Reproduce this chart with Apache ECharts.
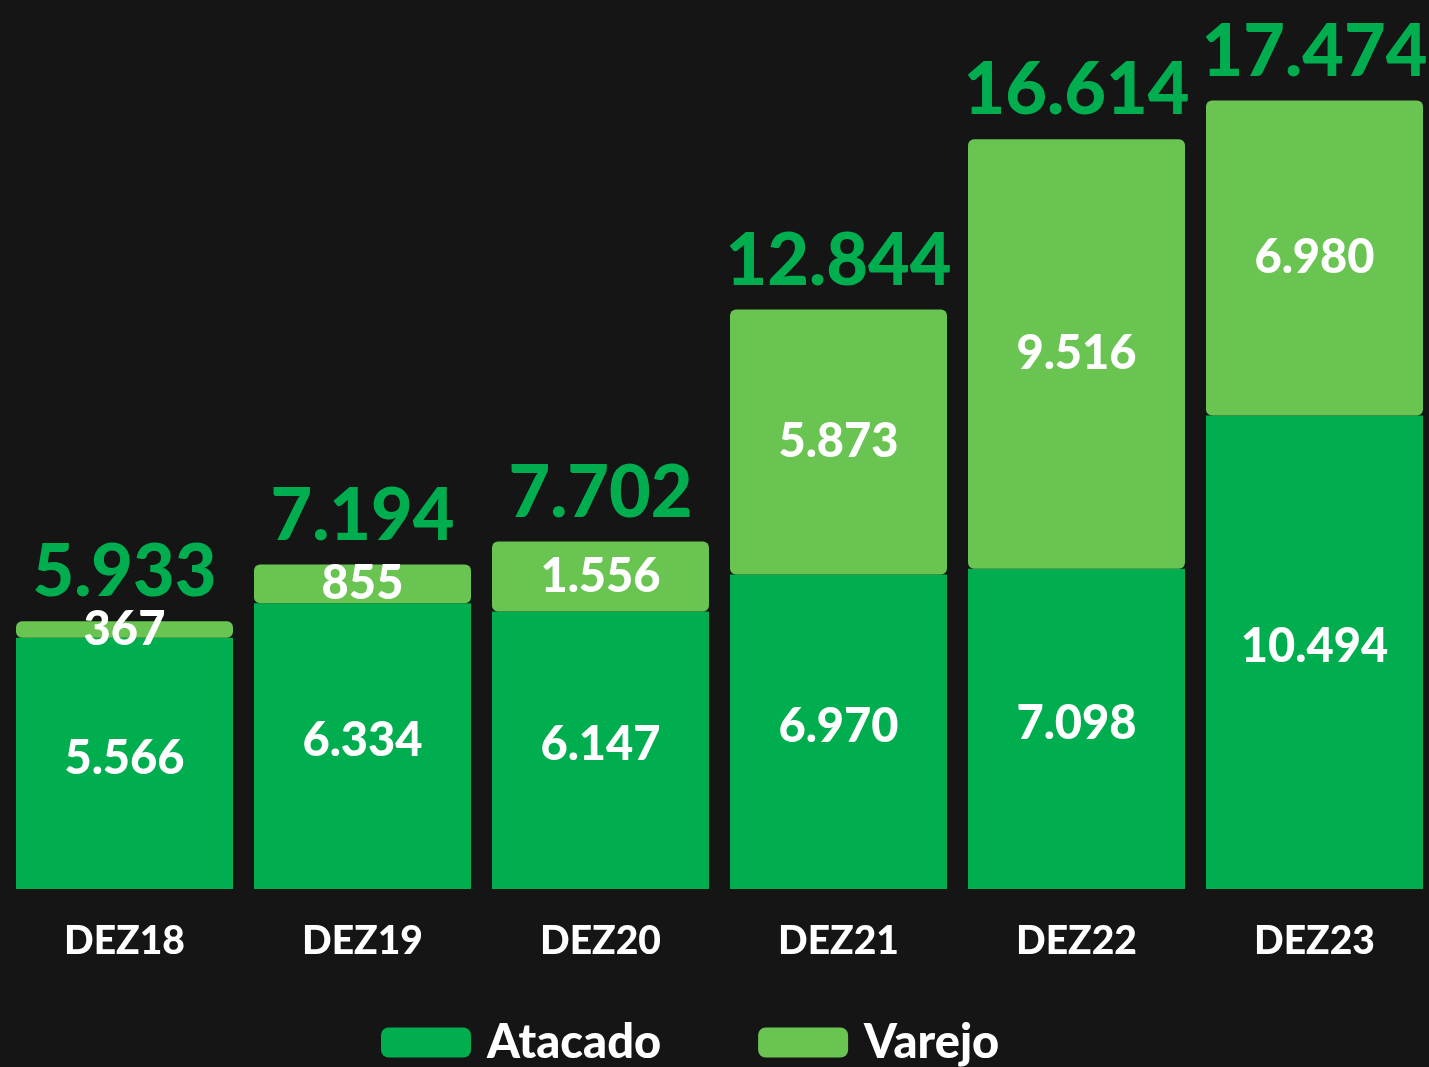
<!DOCTYPE html>
<html>
<head>
<meta charset="utf-8">
<script src="https://cdn.jsdelivr.net/npm/echarts@6/dist/echarts.min.js"></script>
<style>
html,body{margin:0;padding:0;background:#151515;overflow:hidden;}
#chart{width:1440px;height:1067px;}
</style>
</head>
<body>
<div id="chart"></div>
<script>
const categories = ['DEZ18','DEZ19','DEZ20','DEZ21','DEZ22','DEZ23'];
const atacado = [5566, 6334, 6147, 6970, 7098, 10494];
const varejo = [367, 855, 1556, 5873, 9516, 6980];
const totals = [5933, 7194, 7702, 12844, 16614, 17474];

const fmt = v => v.toLocaleString('de-DE');
const FONT = 'Lato';
const chart = echarts.init(document.getElementById('chart'));
chart.setOption({
  backgroundColor: '#151515',
  animation: false,
  grid: {left: 5.5, top: 0, width: 1428, bottom: 178, containLabel: false},
  xAxis: {
    type: 'category', data: categories,
    axisLine: {show: false}, axisTick: {show: false},
    axisLabel: {color: '#ffffff', fontFamily: FONT, fontWeight: 900, fontSize: 39, margin: 33}
  },
  yAxis: {type: 'value', min: 0, max: 19700, show: false, splitLine: {show: false}},
  legend: {
    data: ['Atacado', 'Varejo'],
    top: 1019, left: 381, padding: 0,
    itemWidth: 90, itemHeight: 30, itemGap: 97,
    icon: 'roundRect',
    textStyle: {color: '#ffffff', fontFamily: FONT, fontWeight: 900, fontSize: 47, padding: [0,0,0,11]}
  },
  series: [
    {
      name: 'Atacado', type: 'bar', stack: 's', data: atacado, barWidth: 217,
      itemStyle: {color: '#00AE4F'},
      label: {show: true, position: 'inside', offset: [0, -5], color: '#ffffff', fontFamily: FONT, fontWeight: 900, fontSize: 47, formatter: p => fmt(p.value)}
    },
    {
      name: 'Varejo', type: 'bar', stack: 's', data: varejo, barWidth: 217,
      itemStyle: {color: '#6AC452', borderRadius: 6},
      label: {show: true, position: 'inside', color: '#ffffff', fontFamily: FONT, fontWeight: 900, fontSize: 47, formatter: p => fmt(p.value)}
    },
    {
      name: 'Total', type: 'bar', data: totals, barWidth: 217, barGap: '-100%', z: 0, silent: true,
      itemStyle: {color: 'rgba(0,0,0,0)'},
      label: {show: true, position: 'top', distance: 12, color: '#00AE4F', fontFamily: FONT, fontWeight: 900, fontSize: 72, formatter: p => fmt(p.value)}
    }
  ]
});
</script>
</body>
</html>
